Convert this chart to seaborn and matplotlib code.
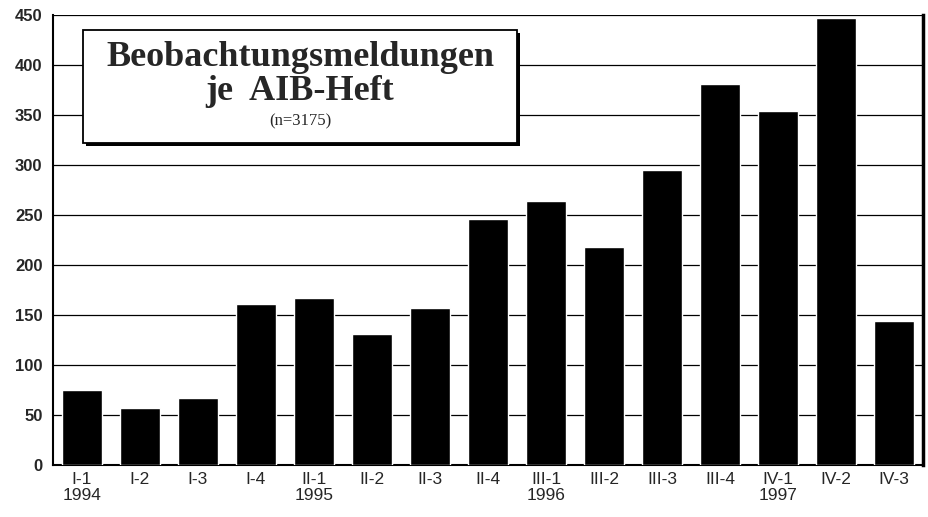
import matplotlib
matplotlib.use('Agg')
import matplotlib.pyplot as plt
import seaborn as sns
import numpy as np
import pandas as pd

# data
hefte = ['I-1', 'I-2', 'I-3', 'I-4', 'II-1', 'II-2', 'II-3', 'II-4',
         'III-1', 'III-2', 'III-3', 'III-4', 'IV-1', 'IV-2', 'IV-3']
jahre = ['1994', '', '', '', '1995', '', '', '', '1996', '', '', '', '1997', '', '']
meldungen = [75, 57, 67, 161, 167, 131, 157, 246, 264, 218, 295, 381, 354, 447, 144]

df = pd.DataFrame({'heft': hefte, 'n': meldungen})

sns.set_style('white')
plt.rcParams['font.family'] = ['Liberation Sans', 'DejaVu Sans']

fig = plt.figure(figsize=(9.29, 5.17), dpi=100)
ax = fig.add_axes([0.057, 0.1006, 0.9365, 0.8704])

sns.barplot(data=df, x='heft', y='n', color='black', width=0.7,
            saturation=1, ax=ax, zorder=3)

ax.set_ylim(0, 450)
ax.set_xlim(-0.5, len(hefte) - 0.5)
ax.set_yticks(np.arange(0, 451, 50))
ax.yaxis.grid(True, color='black', linewidth=0.9, zorder=0)
ax.set_axisbelow(True)

ax.set_xticks(range(len(hefte)))
ax.set_xticklabels([h + '\n' + j for h, j in zip(hefte, jahre)],
                   fontsize=12.5, linespacing=1.05)
ax.set_xticks(np.arange(-0.5, len(hefte), 1), minor=True)
ax.tick_params(axis='x', which='major', length=0, pad=5)
ax.tick_params(axis='x', which='minor', length=4, width=1, direction='out', color='black')
ax.tick_params(axis='y', length=4, width=1, direction='out', color='black', labelsize=12)
for lab in ax.get_yticklabels():
    lab.set_fontweight('bold')

ax.set_xlabel('')
ax.set_ylabel('')
ax.spines['top'].set_visible(False)
ax.spines['left'].set_linewidth(1.5)
ax.spines['bottom'].set_linewidth(1.5)
ax.spines['right'].set_linewidth(2.5)
for s in ['left', 'bottom', 'right']:
    ax.spines[s].set_color('black')

# title box with drop shadow
box = plt.Rectangle((0.0345, 0.7156), 0.499, 0.251, transform=ax.transAxes,
                    facecolor='white', edgecolor='black', linewidth=1.3, zorder=5)
ax.add_patch(box)
shadow = plt.Rectangle((0.0375, 0.709), 0.499, 0.251, transform=ax.transAxes,
                       facecolor='black', edgecolor='black', linewidth=0, zorder=4)
ax.add_patch(shadow)

ax.text(0.284, 0.905, 'Beobachtungsmeldungen', transform=ax.transAxes,
        ha='center', va='center', fontsize=26, fontweight='bold',
        family=['Liberation Serif'], zorder=6)
ax.text(0.284, 0.830, 'je  AIB-Heft', transform=ax.transAxes,
        ha='center', va='center', fontsize=26, fontweight='bold',
        family=['Liberation Serif'], zorder=6)
ax.text(0.284, 0.764, '(n=3175)', transform=ax.transAxes, ha='center', va='center',
        fontsize=12, family=['Liberation Serif'], zorder=6)

fig.savefig('out.png', dpi=100, facecolor='white')
